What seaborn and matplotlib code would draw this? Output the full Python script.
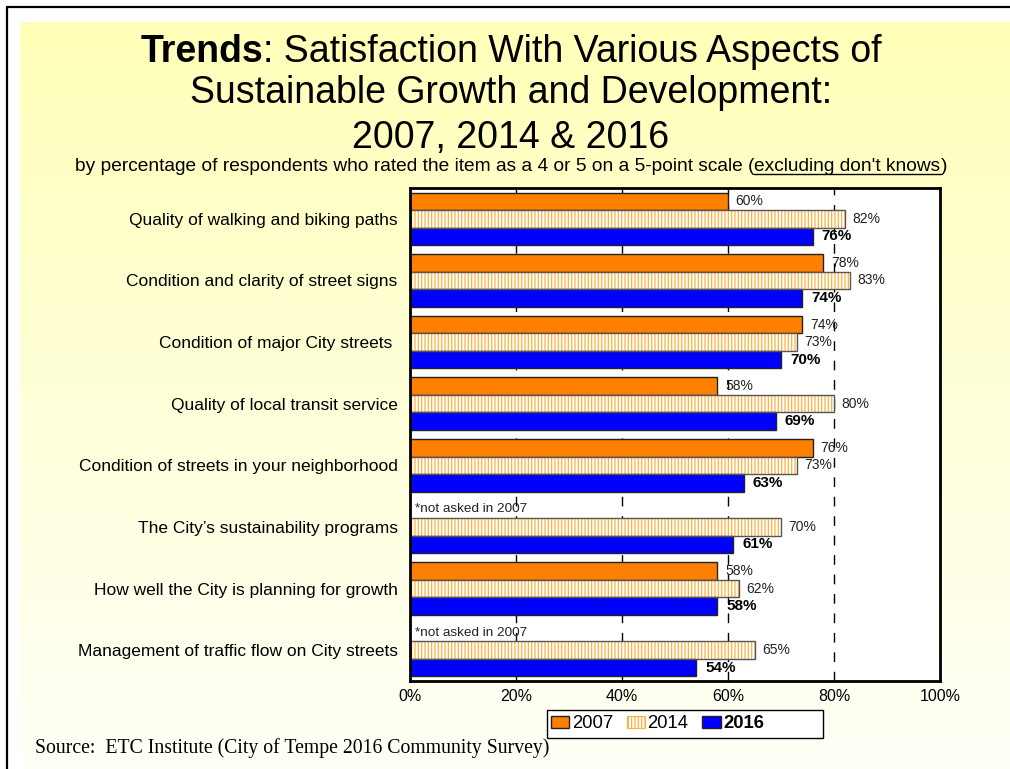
import numpy as np
import pandas as pd
import matplotlib
matplotlib.use("Agg")
import matplotlib.pyplot as plt
from matplotlib.patches import Rectangle, Patch
from matplotlib.lines import Line2D
import seaborn as sns

categories = [
    "Quality of walking and biking paths",
    "Condition and clarity of street signs",
    "Condition of major City streets ",
    "Quality of local transit service",
    "Condition of streets in your neighborhood",
    "The City\u2019s sustainability programs",
    "How well the City is planning for growth",
    "Management of traffic flow on City streets",
]
years = ["2007", "2014", "2016"]
vals_2007 = [60, 78, 74, 58, 76, np.nan, 58, np.nan]
vals_2014 = [82, 83, 73, 80, 73, 70, 62, 65]
vals_2016 = [76, 74, 70, 69, 63, 61, 58, 54]
xticks = [0, 20, 40, 60, 80, 100]

ORANGE = "#FF8000"
BLUE = "#0000FF"
HATCH = "#FFB040"

sns.set_theme(style="white")
plt.rcParams["font.family"] = ["Liberation Sans", "DejaVu Sans"]
plt.rcParams["hatch.linewidth"] = 0.9
for key in ["text.color", "axes.labelcolor", "xtick.color", "ytick.color"]:
    plt.rcParams[key] = "black"

rows = []
for yr, vals in zip(years, [vals_2007, vals_2014, vals_2016]):
    for c, v in zip(categories, vals):
        rows.append({"category": c, "year": yr, "value": v})
df = pd.DataFrame(rows).dropna()

W, H = 1010, 769
fig = plt.figure(figsize=(W / 100, H / 100), dpi=100)
fig.patch.set_facecolor("white")

# soft yellow gradient panel behind everything
bg = fig.add_axes([0, 0, 1, 1], zorder=-10)
bg.set_xlim(0, W)
bg.set_ylim(H, 0)
bg.axis("off")
grad = np.linspace(0, 1, 256).reshape(-1, 1)
top = np.array([255, 255, 185]) / 255
bot = np.array([255, 255, 248]) / 255
img = top[None, None, :] * (1 - grad[..., None]) + bot[None, None, :] * grad[..., None]
bg.imshow(img, extent=[20, W, H, 22], aspect="auto", zorder=0)
bg.add_line(Line2D([7, 7], [7, H], color="black", lw=1.6))
bg.add_line(Line2D([7, W], [7, 7], color="black", lw=1.6))

ax = fig.add_axes([410 / W, 1 - 681 / H, 530 / W, (681 - 188) / H])
sns.barplot(
    data=df, x="value", y="category", hue="year", orient="h",
    order=categories, hue_order=years, width=0.85,
    palette=[ORANGE, "white", BLUE], saturation=1, errorbar=None,
    legend=False, ax=ax, edgecolor="#222222", linewidth=1.0,
)
ax.set_facecolor("white")
ax.set_xlim(0, 100)
ax.set_xticks(xticks)
ax.set_xticklabels([f"{t}%" for t in xticks], fontsize=11.5)
ax.set_xlabel("")
ax.set_ylabel("")
ax.tick_params(axis="y", length=0, pad=9, labelsize=12.5)
ax.tick_params(axis="x", length=0, pad=6)
for s in ax.spines.values():
    s.set_visible(True)
    s.set_color("black")
    s.set_linewidth(2)

ax.set_axisbelow(True)
for g in [20, 40, 60, 80]:
    ax.axvline(g, color="black", lw=1.0, linestyle=(0, (7, 7)), zorder=0.5)

c07, c14, c16 = ax.containers
for p in c14:
    p.set_facecolor("white")
    p.set_edgecolor(HATCH)
    p.set_hatch("|||||")
    p.set_linewidth(0)
    ax.add_patch(Rectangle(p.get_xy(), p.get_width(), p.get_height(),
                           fill=False, edgecolor="#555555", lw=1.0, zorder=p.get_zorder() + 0.1))

ax.bar_label(c07, fmt="%.0f%%", padding=5.5, fontsize=10, color="#222222")
ax.bar_label(c14, fmt="%.0f%%", padding=5.5, fontsize=10, color="#222222")
ax.bar_label(c16, fmt="%.0f%%", padding=6.5, fontsize=11, fontweight="bold", color="black")

# note for items without a 2007 value
dodge = 0.85 / 3
for i, v in enumerate(vals_2007):
    if np.isnan(v):
        ax.text(1, i - dodge, "*not asked in 2007", fontsize=9.7, va="center", ha="left", color="#222222")

# title block
fig.canvas.draw()
r = fig.canvas.get_renderer()
TS = 27
ty = 1 - 62 / H
t1 = fig.text(0, ty, "Trends", fontsize=TS, fontweight="bold", va="baseline", ha="left")
t2 = fig.text(0, ty, ": Satisfaction With Various Aspects of", fontsize=TS, va="baseline", ha="left")
w1 = t1.get_window_extent(r).width
w2 = t2.get_window_extent(r).width
x0 = (511 - (w1 + w2) / 2) / W
t1.set_x(x0)
t2.set_x(x0 + w1 / W)
fig.text(511 / W, 1 - 103 / H, "Sustainable Growth and Development:", fontsize=TS, ha="center", va="baseline")
fig.text(511 / W, 1 - 148 / H, "2007, 2014 & 2016", fontsize=TS, ha="center", va="baseline")

sub_a = "by percentage of respondents who rated the item as a 4 or 5 on a 5-point scale ("
sub_b = "excluding don't knows"
sub_c = ")"
SS = 13.8
sy = 1 - 171 / H
sa = fig.text(0, sy, sub_a, fontsize=SS, va="baseline", ha="left")
sb = fig.text(0, sy, sub_b, fontsize=SS, va="baseline", ha="left")
sc = fig.text(0, sy, sub_c, fontsize=SS, va="baseline", ha="left")
wa = sa.get_window_extent(r).width
wb = sb.get_window_extent(r).width
wc = sc.get_window_extent(r).width
sx = 511 - (wa + wb + wc) / 2
sa.set_x(sx / W)
sb.set_x((sx + wa) / W)
sc.set_x((sx + wa + wb) / W)
bg.add_line(Line2D([sx + wa, sx + wa + wb], [174, 174], color="black", lw=1.0))

# legend panel
bg.add_patch(Rectangle((547, 710), 276, 28, facecolor="white", edgecolor="black", lw=1.0, zorder=5))
handles = [
    Patch(facecolor=ORANGE, edgecolor="#222222", lw=1.0),
    Patch(facecolor="white", edgecolor=HATCH, hatch="|||||", lw=0.8),
    Patch(facecolor=BLUE, edgecolor="#222222", lw=1.0),
]
leg = fig.legend(handles, years, loc="center left", bbox_to_anchor=(551 / W, 1 - 724 / H),
                 ncol=3, fontsize=13.3, frameon=False,
                 handlelength=1.0, handleheight=0.65, handletextpad=0.12, columnspacing=0.75,
                 borderpad=0.0, borderaxespad=0)
leg.get_texts()[2].set_fontweight("bold")

fig.text(35 / W, 1 - 748 / H, "Source:  ETC Institute (City of Tempe 2016 Community Survey)",
         fontsize=14.2, family=["Liberation Serif", "DejaVu Serif"], va="center", ha="left")

fig.savefig("out.png", dpi=100)
